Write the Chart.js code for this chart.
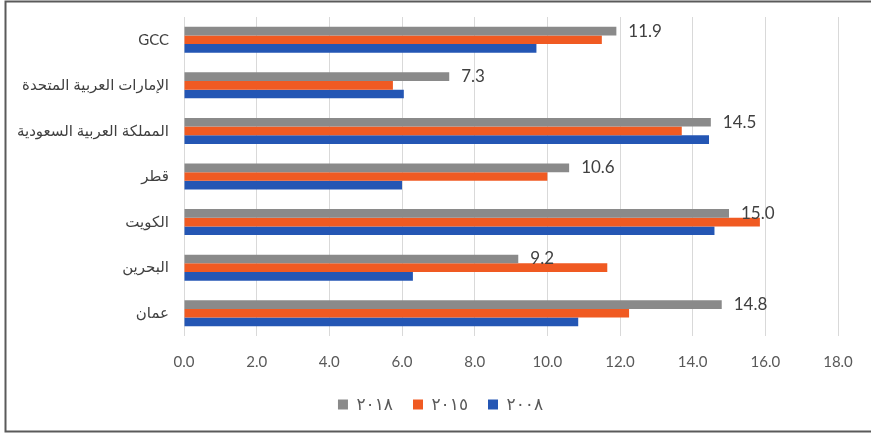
<!DOCTYPE html>
<html><head><meta charset="utf-8">
<script src="https://cdn.jsdelivr.net/npm/chart.js@4"></script>
<style>html,body{margin:0;padding:0;background:#fff}#w{width:871px;height:433px}</style>
</head><body><div id="w"><canvas id="c" width="871" height="433"></canvas></div>
<script>
const categories = ["GCC","الإمارات العربية المتحدة","المملكة العربية السعودية","قطر","الكويت","البحرين","عمان"];
const seriesNames = ["٢٠١٨","٢٠١٥","٢٠٠٨"];
const values2018 = [11.9, 7.3, 14.5, 10.6, 15.0, 9.2, 14.8];
const values2015 = [11.5, 5.75, 13.7, 10.0, 15.85, 11.65, 12.25];
const values2008 = [9.7, 6.05, 14.45, 6.0, 14.6, 6.3, 10.85];
const xTicks = [0,2,4,6,8,10,12,14,16,18];
const colors = ["#8a8a8a","#f05a22","#2456b4"];
const FONT = "Lato, 'DejaVu Sans', sans-serif";

const frame = {id:'frame', afterDraw(ch){const c=ch.ctx;c.save();c.strokeStyle='#5a5a5a';c.lineWidth=2;
 c.beginPath();c.moveTo(871,1.5);c.lineTo(5.5,1.5);c.lineTo(5.5,431.5);c.lineTo(871,431.5);c.stroke();c.restore();}};
const labels = {id:'lbl', afterDatasetsDraw(ch){const c=ch.ctx;const meta=ch.getDatasetMeta(0);c.save();
 c.font='17px '+FONT;c.fillStyle='#404040';c.textAlign='left';c.textBaseline='middle';
 meta.data.forEach((b,i)=>{c.fillText(values2018[i].toFixed(1), b.x+12, b.y);});c.restore();}};

new Chart(document.getElementById('c'),{
 type:'bar',
 data:{labels:categories,datasets:[
  {label:seriesNames[0],data:values2018,backgroundColor:colors[0]},
  {label:seriesNames[1],data:values2015,backgroundColor:colors[1]},
  {label:seriesNames[2],data:values2008,backgroundColor:colors[2]}]},
 options:{indexAxis:'y',responsive:false,animation:false,
  datasets:{bar:{categoryPercentage:0.57,barPercentage:1.0}},
  layout:{padding:{top:17,right:0,bottom:10,left:10}},
  scales:{
   x:{min:0,max:18,afterBuildTicks(a){a.ticks=xTicks.map(v=>({value:v}));},
      grid:{color:'#d9d9d9',drawTicks:false},border:{display:false},
      ticks:{padding:17,color:'#595959',font:{family:FONT,size:15},callback:v=>Number(v).toFixed(1)},
      afterFit(a){a.height=40;a.paddingLeft=0;a.paddingRight=0;}},
   y:{grid:{display:false,drawTicks:false},border:{display:false},
      ticks:{padding:15,color:'#404040',font:{family:FONT,size:15}},
      afterFit(a){a.width=174;a.paddingTop=0;a.paddingBottom=0;}},
   yRight:{type:'category',labels:categories,position:'right',grid:{display:false,drawTicks:false},border:{display:false},
      ticks:{display:false},afterFit(a){a.width=33;a.paddingTop=0;a.paddingBottom=0;}}
  },
  plugins:{legend:{position:'bottom',labels:{boxWidth:10,boxHeight:10,padding:20,color:'#595959',font:{family:FONT,size:17}}},
   tooltip:{enabled:false}}
 },
 plugins:[frame,labels]
});
</script></body></html>
